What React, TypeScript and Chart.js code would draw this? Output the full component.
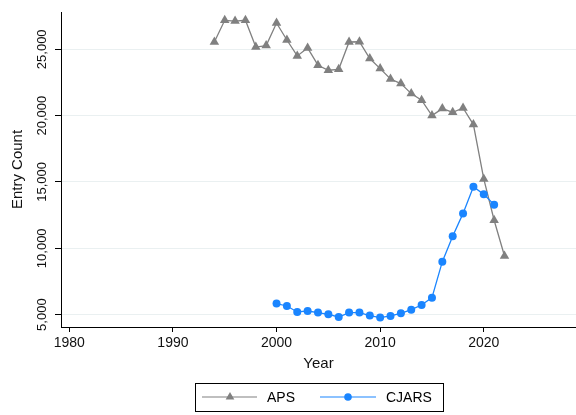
import React, { useEffect, useRef } from 'react';
import { Chart, registerables } from 'chart.js';

Chart.register(...registerables);

const apsYears = [1994, 1995, 1996, 1997, 1998, 1999, 2000, 2001, 2002, 2003, 2004, 2005, 2006, 2007, 2008, 2009, 2010, 2011, 2012, 2013, 2014, 2015, 2016, 2017, 2018, 2019, 2020, 2021, 2022];
const apsValues = [25550, 27185, 27130, 27185, 25170, 25280, 26980, 25700, 24500, 25100, 23800, 23420, 23490, 25550, 25570, 24300, 23545, 22760, 22415, 21660, 21160, 20000, 20530, 20250, 20575, 19325, 15230, 12115, 9420];

const cjarsYears = [2000, 2001, 2002, 2003, 2004, 2005, 2006, 2007, 2008, 2009, 2010, 2011, 2012, 2013, 2014, 2015, 2016, 2017, 2018, 2019, 2020, 2021];
const cjarsValues = [5830, 5650, 5200, 5270, 5150, 5020, 4820, 5150, 5150, 4925, 4775, 4900, 5100, 5375, 5725, 6280, 8990, 10900, 12630, 14645, 14065, 13290];

const xTicks = [1980, 1990, 2000, 2010, 2020];
const yTicks = [5000, 10000, 15000, 20000, 25000];

const FONT = '"Liberation Sans", Arial, sans-serif';
const APS_COLOR = '#808080';
const CJARS_COLOR = '#1a85ff';

const legendPlugin = {
  id: 'boxLegend',
  afterDraw(chart: any) {
    const ctx = chart.ctx as CanvasRenderingContext2D;
    const ca = chart.chartArea;
    const w = 248;
    const h = 28;
    const left = Math.round((ca.left + ca.right) / 2 - w / 2);
    const top = 383;
    const my = top + h / 2;
    ctx.save();
    ctx.strokeStyle = '#000';
    ctx.lineWidth = 1;
    ctx.strokeRect(left + 0.5, top + 0.5, w, h);

    const dsAps = chart.data.datasets[1];
    const dsCj = chart.data.datasets[0];

    // APS entry
    ctx.strokeStyle = dsAps.borderColor;
    ctx.lineWidth = 1.2;
    ctx.beginPath();
    ctx.moveTo(left + 7, my);
    ctx.lineTo(left + 62, my);
    ctx.stroke();
    ctx.fillStyle = dsAps.pointBackgroundColor;
    const r = 5;
    const cx1 = left + 35;
    ctx.beginPath();
    for (let k = 0; k < 3; k++) {
      const a = (k * 2 * Math.PI) / 3;
      const px = cx1 + Math.sin(a) * r;
      const py = my - Math.cos(a) * r;
      if (k === 0) ctx.moveTo(px, py);
      else ctx.lineTo(px, py);
    }
    ctx.closePath();
    ctx.fill();

    // CJARS entry
    ctx.strokeStyle = dsCj.borderColor;
    ctx.beginPath();
    ctx.moveTo(left + 125, my);
    ctx.lineTo(left + 181, my);
    ctx.stroke();
    ctx.fillStyle = dsCj.pointBackgroundColor;
    ctx.beginPath();
    ctx.arc(left + 153, my, 3.8, 0, Math.PI * 2);
    ctx.fill();

    ctx.fillStyle = '#000';
    ctx.font = `14px ${FONT}`;
    ctx.textBaseline = 'middle';
    ctx.textAlign = 'left';
    ctx.fillText(dsAps.label, left + 72, my + 1);
    ctx.fillText(dsCj.label, left + 191, my + 1);
    ctx.restore();
  },
};

export default function App() {
  const canvasRef = useRef<HTMLCanvasElement | null>(null);

  useEffect(() => {
    document.body.style.margin = '0';
    const canvas = canvasRef.current;
    if (!canvas) return;
    const chart = new Chart(canvas, {
      type: 'line',
      data: {
        datasets: [
          {
            label: 'CJARS',
            data: cjarsYears.map((x, i) => ({ x, y: cjarsValues[i] })),
            borderColor: CJARS_COLOR,
            backgroundColor: CJARS_COLOR,
            pointBackgroundColor: CJARS_COLOR,
            pointBorderWidth: 0,
            pointRadius: 4,
            pointStyle: 'circle',
            borderWidth: 1.3,
            tension: 0,
          },
          {
            label: 'APS',
            data: apsYears.map((x, i) => ({ x, y: apsValues[i] })),
            borderColor: APS_COLOR,
            backgroundColor: APS_COLOR,
            pointBackgroundColor: APS_COLOR,
            pointBorderWidth: 0,
            pointRadius: 5.5,
            pointStyle: 'triangle',
            borderWidth: 1.3,
            tension: 0,
          },
        ],
      },
      options: {
        responsive: false,
        animation: false,
        layout: { autoPadding: false, padding: { top: 12, left: 0, right: 0, bottom: 40 } },
        plugins: {
          legend: { display: false },
          tooltip: { enabled: false },
        },
        scales: {
          x: {
            type: 'linear',
            min: 1979.2,
            max: 2028.9,
            afterBuildTicks: (axis: any) => {
              axis.ticks = xTicks.map((v) => ({ value: v }));
            },
            afterFit: (axis: any) => {
              axis.height = 48;
              axis.paddingLeft = 0;
              axis.paddingRight = 0;
            },
            grid: {
              drawOnChartArea: false,
              drawTicks: true,
              tickLength: 5,
              tickColor: '#000',
              tickWidth: 1,
            },
            border: { color: '#000', width: 1 },
            ticks: {
              color: '#111',
              font: { family: FONT, size: 14 },
              padding: 3,
              maxRotation: 0,
              minRotation: 0,
              callback: (v: any) => String(v),
            },
            title: {
              display: true,
              text: 'Year',
              color: '#111',
              font: { family: FONT, size: 15 },
              padding: { top: 0, bottom: 2 },
            },
          },
          y: {
            type: 'linear',
            min: 4066,
            max: 27811,
            afterBuildTicks: (axis: any) => {
              axis.ticks = yTicks.map((v) => ({ value: v }));
            },
            afterFit: (axis: any) => {
              axis.width = 61;
              axis.paddingTop = 0;
              axis.paddingBottom = 0;
            },
            grid: {
              color: '#eaf0f1',
              lineWidth: 1,
              drawOnChartArea: true,
              drawTicks: true,
              tickLength: 6,
              tickColor: '#000',
              tickWidth: 1,
            },
            border: { color: '#000', width: 1 },
            ticks: {
              color: '#111',
              font: { family: FONT, size: 13 },
              minRotation: 90,
              maxRotation: 90,
              crossAlign: 'center',
              padding: -7,
              callback: (v: any) => Number(v).toLocaleString('en-US'),
            },
            title: {
              display: true,
              text: 'Entry Count',
              color: '#111',
              font: { family: FONT, size: 15 },
              padding: { top: 9, bottom: 0 },
            },
          },
        },
      },
      plugins: [legendPlugin],
    });
    return () => chart.destroy();
  }, []);

  return (
    <div style={{ width: 576, height: 415 }}>
      <canvas ref={canvasRef} width={576} height={415} style={{ display: 'block' }} />
    </div>
  );
}
